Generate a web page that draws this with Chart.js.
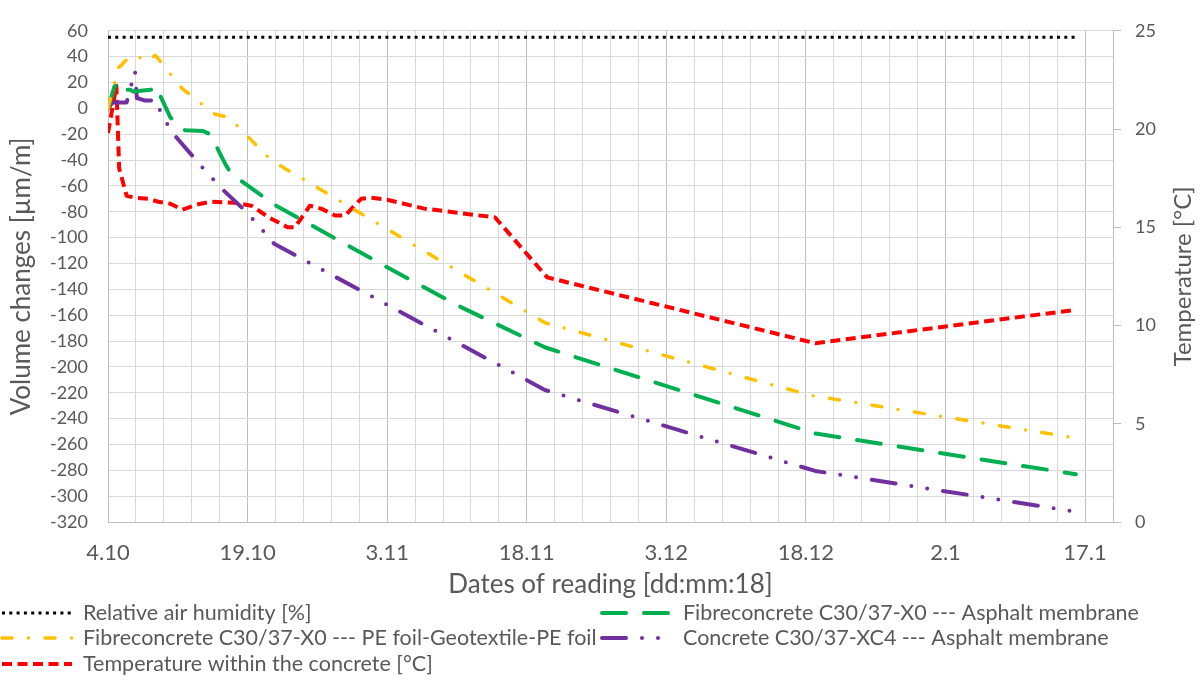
<!DOCTYPE html>
<html>
<head>
<meta charset="utf-8">
<script src="https://cdn.jsdelivr.net/npm/chart.js@4.4.1/dist/chart.umd.min.js"></script>
<style>
  html, body { margin: 0; padding: 0; background: #fff; }
  #wrap { width: 1204px; height: 682px; }
</style>
</head>
<body>
<div id="wrap"><canvas id="chart" width="1204" height="682"></canvas></div>
<script>
// x values are days counted from the first reading (4.10)
const dateTicks = ['4.10', '19.10', '3.11', '18.11', '3.12', '18.12', '2.1', '17.1'];

const humidityDays = [0, 104];
const humidity = [55, 55];

const peFoilDays = [0, 0.7, 1, 1.4, 2.4, 3.5, 4, 5.1, 8, 9.5, 10.4, 11.5, 13, 17.5, 47, 75.5, 104];
const peFoil = [0, 20, 31, 33, 41, 39, 36, 41, 15, 7, 1, -4.5, -7, -40, -166, -222, -255];

const fibreAsphaltDays = [0, 0.7, 0.9, 1.4, 1.8, 2.4, 2.7, 4.6, 5.1, 5.6, 6.7, 7.8, 8.3, 10.2, 11, 12.6, 13.2, 14.3, 18, 22, 30, 38, 47, 76, 104];
const fibreAsphalt = [0, 17, 18, 12, 14.4, 14.4, 13, 14.4, 17.4, 10, -7, -14.5, -17, -17.5, -20, -43, -50, -56, -75, -91, -123, -154, -185, -251.5, -283];

const concreteAsphaltDays = [0, 0.5, 2, 2.9, 3.1, 4, 5.3, 5.7, 7.3, 10.5, 12.5, 15, 17.9, 47, 76, 104];
const concreteAsphalt = [0, 4.5, 4.5, 29, 8, 6, 6, -5, -22, -48.7, -64, -81, -105, -218, -280.5, -312];

const tempDays = [0, 0.9, 1.2, 2, 3, 4.3, 5.4, 6.7, 8, 9.5, 11, 13.6, 15.4, 17.3, 19.3, 20.1, 21.7, 22.9, 24.4, 25.5, 27.2, 28.3, 30, 34, 41.6, 47.2, 76, 104];
const temperature = [19.8, 22.2, 18.0, 16.6, 16.5, 16.45, 16.3, 16.2, 15.9, 16.15, 16.3, 16.25, 16.1, 15.5, 15.0, 15.0, 16.1, 15.95, 15.6, 15.6, 16.45, 16.5, 16.4, 15.95, 15.5, 12.45, 9.1, 10.8];

function points(days, values) {
  return days.map((d, i) => ({ x: d, y: values[i] }));
}

const TEXT = '#595959';
const FONT = 'Lato, "Open Sans", sans-serif';

// legend drawn under the axis title, two columns like the original
const bottomLegend = {
  id: 'bottomLegend',
  afterDraw(chart) {
    const ctx = chart.ctx;
    const slots = [
      { ds: 0, x: 2, y: 613 },
      { ds: 1, x: 2, y: 638 },
      { ds: 4, x: 2, y: 664 },
      { ds: 2, x: 602, y: 613 },
      { ds: 3, x: 602, y: 638 }
    ];
    ctx.save();
    slots.forEach(s => {
      const ds = chart.data.datasets[s.ds];
      ctx.beginPath();
      ctx.strokeStyle = ds.borderColor;
      ctx.lineWidth = ds.borderWidth;
      ctx.lineCap = ds.borderCapStyle || 'butt';
      ctx.setLineDash(ds.borderDash || []);
      ctx.moveTo(s.x, s.y);
      ctx.lineTo(s.x + 70, s.y);
      ctx.stroke();
      ctx.setLineDash([]);
      ctx.fillStyle = TEXT;
      ctx.font = '21.5px ' + FONT;
      ctx.textBaseline = 'middle';
      ctx.fillText(ds.label, s.x + 81, s.y);
    });
    ctx.restore();
  }
};

// right axis title reads bottom-to-top in the original
const rightTitle = {
  id: 'rightTitle',
  afterDraw(chart) {
    const ctx = chart.ctx;
    const area = chart.chartArea;
    ctx.save();
    ctx.translate(1183, (area.top + area.bottom) / 2);
    ctx.rotate(-Math.PI / 2);
    ctx.fillStyle = TEXT;
    ctx.font = '24px ' + FONT;
    ctx.textAlign = 'center';
    ctx.textBaseline = 'middle';
    ctx.fillText('Temperature [°C]', 0, 0);
    ctx.restore();
  }
};

new Chart(document.getElementById('chart'), {
  type: 'line',
  data: {
    datasets: [
      {
        label: 'Relative air humidity [%]',
        data: points(humidityDays, humidity),
        yAxisID: 'y',
        borderColor: '#000000',
        borderWidth: 3,
        borderDash: [3, 4.3]
      },
      {
        label: 'Fibreconcrete C30/37-X0 --- PE foil-Geotextile-PE foil',
        data: points(peFoilDays, peFoil),
        yAxisID: 'y',
        borderColor: '#FFC000',
        borderWidth: 3.5,
        borderCapStyle: 'round',
        borderDash: [10, 16.5, 0, 16.5]
      },
      {
        label: 'Fibreconcrete C30/37-X0 --- Asphalt membrane',
        data: points(fibreAsphaltDays, fibreAsphalt),
        yAxisID: 'y',
        borderColor: '#00B050',
        borderWidth: 4,
        borderCapStyle: 'round',
        borderDash: [24, 18]
      },
      {
        label: 'Concrete C30/37-XC4 --- Asphalt membrane',
        data: points(concreteAsphaltDays, concreteAsphalt),
        yAxisID: 'y',
        borderColor: '#7030A0',
        borderWidth: 4,
        borderCapStyle: 'round',
        borderDash: [24, 16, 0, 16, 0, 16]
      },
      {
        label: 'Temperature within the concrete [°C]',
        data: points(tempDays, temperature),
        yAxisID: 'y2',
        borderColor: '#FF0000',
        borderWidth: 4,
        borderDash: [10, 5.5]
      }
    ]
  },
  options: {
    responsive: false,
    animation: false,
    devicePixelRatio: 1,
    layout: { padding: { left: 0, right: 0, top: 22, bottom: 82 } },
    elements: {
      point: { radius: 0 },
      line: { tension: 0, fill: false, borderJoinStyle: 'round' }
    },
    plugins: {
      legend: { display: false },
      tooltip: { enabled: false }
    },
    scales: {
      x: {
        type: 'linear',
        min: 0,
        max: 108,
        afterFit(scale) { scale.height = 78; },
        ticks: {
          stepSize: 3,
          autoSkip: false,
          maxRotation: 0,
          padding: 18,
          color: TEXT,
          font: { family: FONT, size: 22 },
          callback: v => (v % 15 === 0 ? dateTicks[v / 15] : '')
        },
        grid: {
          drawTicks: false,
          color: ctx => (ctx.tick && ctx.tick.value % 15 === 0 ? '#bfbfbf' : '#d9d9d9')
        },
        border: { color: '#bfbfbf' },
        title: {
          display: true,
          text: 'Dates of reading [dd:mm:18]',
          color: TEXT,
          font: { family: FONT, size: 26 },
          padding: { top: 0, bottom: 0 }
        }
      },
      y: {
        position: 'left',
        min: -320,
        max: 60,
        afterFit(scale) { scale.width = 108; },
        ticks: {
          stepSize: 20,
          padding: 20,
          color: TEXT,
          font: { family: FONT, size: 18 }
        },
        grid: { drawTicks: false, color: '#d9d9d9' },
        border: { color: '#bfbfbf' },
        title: {
          display: true,
          text: 'Volume changes [µm/m]',
          color: TEXT,
          font: { family: FONT, size: 26 },
          padding: { top: 6, bottom: 0 }
        }
      },
      y2: {
        position: 'right',
        min: 0,
        max: 25,
        afterFit(scale) { scale.width = 91; },
        ticks: {
          stepSize: 5,
          padding: 14,
          color: TEXT,
          font: { family: FONT, size: 18 }
        },
        grid: { drawOnChartArea: false, drawTicks: true, tickLength: 8, color: '#bfbfbf' },
        border: { color: '#bfbfbf' },
        title: { display: false }
      }
    }
  },
  plugins: [bottomLegend, rightTitle]
});
</script>
</body>
</html>
